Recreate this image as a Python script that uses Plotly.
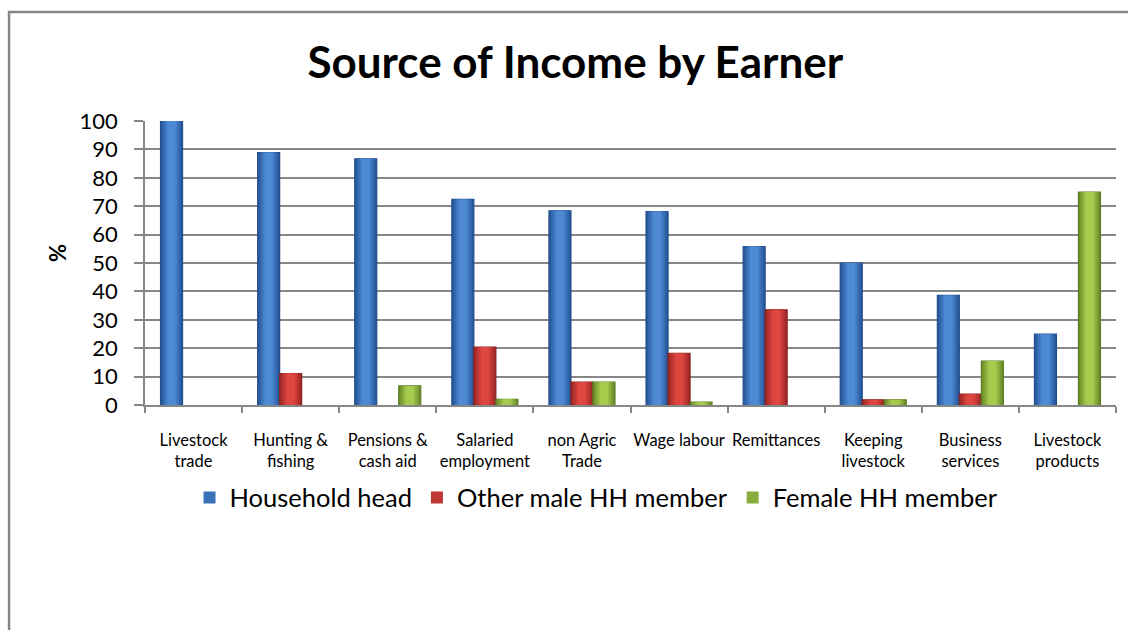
import plotly.graph_objects as go

# Income sources (x categories)
categories = [
    "Livestock<br>trade", "Hunting &<br>fishing", "Pensions &<br>cash aid",
    "Salaried<br>employment", "non Agric<br>Trade", "Wage labour",
    "Remittances", "Keeping<br>livestock", "Business<br>services",
    "Livestock<br>products",
]

# Share of each income source by earner (%)
household_head = [100, 88.9, 86.7, 72.4, 68.4, 68.1, 55.8, 50, 38.6, 25]
other_male = [None, 11.1, None, 20.4, 8.1, 18.2, 33.5, 1.8, 3.8, None]
female = [None, None, 6.7, 2.0, 8.1, 1.0, None, 1.8, 15.5, 75]

y_ticks = list(range(0, 101, 10))

# name, values, edge shade, centre shade, outline
series = [
    ("Household head", household_head, (40, 88, 156), (78, 138, 212), "#22508C"),
    ("Other male HH member", other_male, (160, 40, 38), (222, 70, 64), "#8A2220"),
    ("Female HH member", female, (108, 142, 44), (166, 204, 78), "#5C7C22"),
]

FONT = "Lato, Calibri, Carlito, sans-serif"
GRID = "#878787"

GROUP = 0.68                 # share of each category slot covered by the group
BAR_W = GROUP / len(series)  # width of one bar in category units
LAYERS = [1.0, 0.84, 0.68, 0.52, 0.36]  # shading bands, outer to inner


def mix(a, b, t):
    return "rgb(%d,%d,%d)" % tuple(round(a[i] + (b[i] - a[i]) * t) for i in range(3))


fig = go.Figure()
for k, (name, vals, c_edge, c_mid, outline) in enumerate(series):
    centre = -GROUP / 2 + BAR_W * (k + 0.5)
    for j, frac in enumerate(LAYERS):
        w = BAR_W * frac
        t = j / (len(LAYERS) - 1)
        fig.add_trace(go.Bar(
            x=categories, y=vals, name=name, legendgroup=name,
            showlegend=(j == 2),
            width=w, offset=centre - w / 2,
            marker=dict(
                color=mix(c_edge, c_mid, t),
                line=dict(color=outline, width=1.2) if j == 0 else dict(width=0),
            ),
            hoverinfo="skip" if j else None,
        ))

fig.update_layout(
    width=1128, height=630,
    paper_bgcolor="white", plot_bgcolor="white",
    margin=dict(l=145, r=12, t=121, b=225),
    barmode="overlay",
    font=dict(family=FONT, color="black"),
    title=dict(
        text="<b>Source of Income by Earner</b>",
        font=dict(family=FONT, size=44, color="black"),
        x=0.51, xref="container", xanchor="center",
        y=0.9, yref="container", yanchor="middle",
    ),
    showlegend=True,
    legend=dict(
        orientation="h", x=0.465, xanchor="center", y=-0.327, yanchor="middle",
        font=dict(family=FONT, size=25.5, color="black"),
        itemwidth=30, tracegroupgap=0,
    ),
)

fig.update_yaxes(
    range=[0, 100], tickvals=y_ticks,
    showgrid=True, gridcolor=GRID, gridwidth=1.5,
    showline=True, linecolor=GRID, linewidth=1.5,
    ticks="outside", ticklen=9, tickcolor=GRID, tickwidth=1.5,
    ticklabelstandoff=12,
    tickfont=dict(family=FONT, size=22, color="black"),
    zeroline=False,
)
fig.update_xaxes(
    showline=True, linecolor=GRID, linewidth=1.5,
    ticks="outside", ticklen=6, tickcolor=GRID, tickwidth=1.5,
    tickson="boundaries", ticklabelstandoff=19,
    tickfont=dict(family=FONT, size=16.5, color="black"),
    tickangle=0,
)

# Vertical axis title
fig.add_annotation(
    text="<b>%</b>", textangle=-90, showarrow=False,
    xref="paper", yref="paper", x=-0.0906, y=0.535,
    xanchor="center", yanchor="middle",
    font=dict(family=FONT, size=22, color="black"),
)

# Chart area frame
fig.add_shape(
    type="rect", xref="paper", yref="paper",
    x0=-0.14, x1=1.1, y0=-1.0, y1=1.384,
    line=dict(color="#868686", width=2.5), layer="below",
)

fig.write_html("out.html")
